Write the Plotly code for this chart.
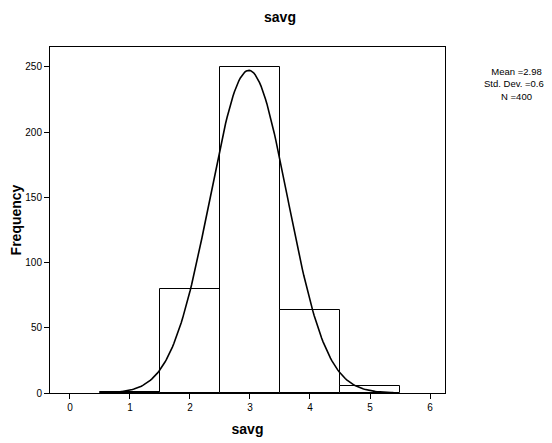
import numpy as np
import plotly.graph_objects as go

# histogram bins (midpoints) and counts
bin_mid = [1, 2, 3, 4, 5]
counts = [1, 80, 250, 64, 5]

# summary stats shown in the legend box
mean_val = 2.98
sd_val = 0.645
n_obs = 400
x_ticks = [0, 1, 2, 3, 4, 5, 6]
y_ticks = [0, 50, 100, 150, 200, 250]

# normal curve scaled to the histogram (bin width 1)
xs = np.linspace(0.5, 5.4, 200)
ys = n_obs * 1.0 / (sd_val * np.sqrt(2 * np.pi)) * np.exp(-0.5 * ((xs - mean_val) / sd_val) ** 2)

fig = go.Figure()

fig.add_trace(go.Bar(
    x=bin_mid, y=counts, width=1,
    marker=dict(color="white", line=dict(color="black", width=1)),
    showlegend=False
))

fig.add_trace(go.Scatter(
    x=xs, y=ys, mode="lines",
    line=dict(color="black", width=1.6),
    showlegend=False
))

font_main = "Liberation Sans, Arial, sans-serif"

# page body has an 8px margin, so the figure is 8px smaller and shifted
fig.update_layout(
    width=544, height=435,
    margin=dict(l=42, r=107, t=39, b=50),
    paper_bgcolor="white", plot_bgcolor="white",
    font=dict(family=font_main, color="black", size=10),
    title=dict(text="<b>savg</b>", x=0.5, xanchor="center", y=0.98, yanchor="middle",
               font=dict(size=14, family=font_main), automargin=False),
    bargap=0,
    xaxis=dict(
        range=[-0.333, 6.25], tickvals=x_ticks, ticks="outside", ticklen=5,
        tickcolor="black", showline=True, linecolor="black", linewidth=1, mirror=True,
        showgrid=False, zeroline=False, tickfont=dict(size=10), automargin=False,
        title=dict(text="<b>savg</b>", font=dict(size=14), standoff=12)
    ),
    yaxis=dict(
        range=[0, 265.3], tickvals=y_ticks, ticks="outside", ticklen=5,
        tickcolor="black", showline=True, linecolor="black", linewidth=1, mirror=True,
        showgrid=False, zeroline=False, tickfont=dict(size=10), automargin=False,
        title=dict(text="<b>Frequency</b>", font=dict(size=14), standoff=3)
    ),
    annotations=[dict(
        text=f"Mean ={mean_val}<br>Std. Dev. ={sd_val:.2f}<br>N ={n_obs}",
        xref="paper", yref="paper", x=1.18, y=0.95,
        xanchor="center", yanchor="top", align="center", showarrow=False,
        font=dict(size=9.5, family=font_main)
    )]
)

fig.write_html("out.html")
